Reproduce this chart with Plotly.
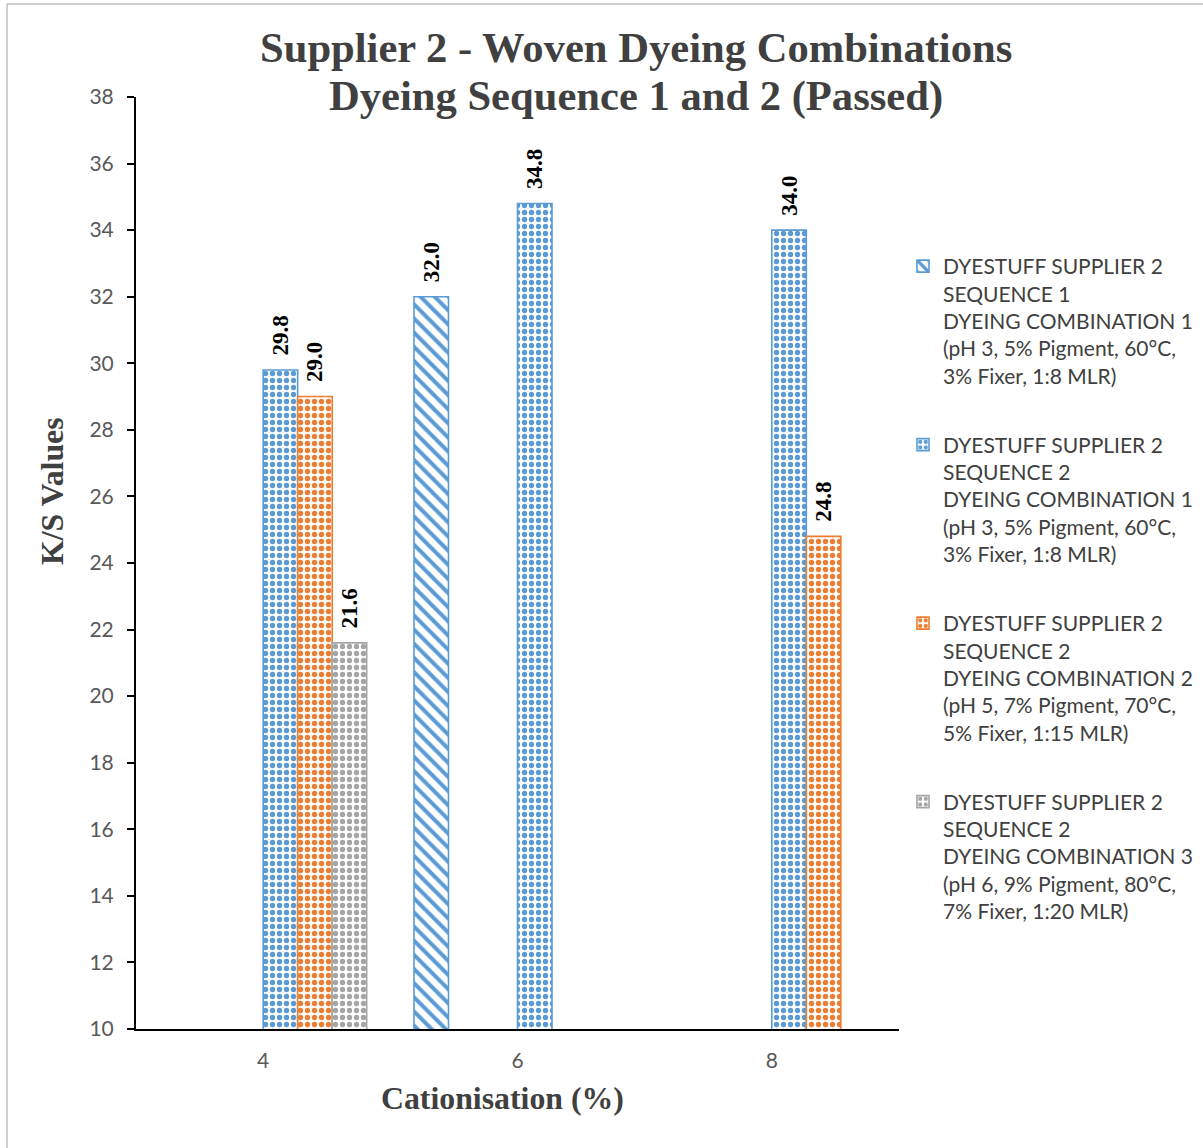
import plotly.graph_objects as go

# Data
categories = ["4", "6", "8"]
seq1_comb1 = [0, 32.0, 0]
seq1_comb2 = [0, 0, 0]
seq1_comb3 = [0, 0, 0]
seq2_comb1 = [29.8, 34.8, 34.0]
seq2_comb2 = [29.0, 0, 24.8]
seq2_comb3 = [21.6, 0, 0]

legend_seq1_comb1 = ("DYESTUFF SUPPLIER 2<br>SEQUENCE 1<br>DYEING COMBINATION 1<br>"
                     "(pH 3, 5% Pigment, 60°C,<br>3% Fixer, 1:8 MLR)")
legend_seq2_comb1 = ("DYESTUFF SUPPLIER 2<br>SEQUENCE 2<br>DYEING COMBINATION 1<br>"
                     "(pH 3, 5% Pigment, 60°C,<br>3% Fixer, 1:8 MLR)")
legend_seq2_comb2 = ("DYESTUFF SUPPLIER 2<br>SEQUENCE 2<br>DYEING COMBINATION 2<br>"
                     "(pH 5, 7% Pigment, 70°C,<br>5% Fixer, 1:15 MLR)")
legend_seq2_comb3 = ("DYESTUFF SUPPLIER 2<br>SEQUENCE 2<br>DYEING COMBINATION 3<br>"
                     "(pH 6, 9% Pigment, 80°C,<br>7% Fixer, 1:20 MLR)")

BLUE = "#5B9BD5"
ORANGE = "#ED7D31"
GREY = "#A5A5A5"

SERIF = "Liberation Serif, Times New Roman, serif"
SANS = "Lato, Carlito, Calibri, sans-serif"

W, H = 1203, 1148
ML, MR, MT, MB = 136, 304, 97, 119


def labels(vals):
    # non-breaking spaces keep the value label clear of the bar top
    return [f"\u00a0\u00a0{v:.1f}" if v > 0 else "" for v in vals]


def bar(name, vals, color, shape, size, solidity, show, group):
    return go.Bar(
        name=name,
        x=categories,
        y=vals,
        text=labels(vals),
        textposition="outside",
        textangle=-90,
        constraintext="none",
        cliponaxis=False,
        textfont=dict(family=SERIF, size=23, color="black", weight="bold"),
        marker=dict(
            color="white",
            line=dict(color=color, width=1.6),
            pattern=dict(shape=shape, fgcolor=color, bgcolor="white",
                         size=size, solidity=solidity, fillmode="replace"),
        ),
        showlegend=show,
        legendgroup=group,
    )


fig = go.Figure()
fig.add_trace(bar(legend_seq1_comb1, seq1_comb1, BLUE, "\\", 10, 0.4, True, "a"))
fig.add_trace(bar("SEQUENCE 1 COMBINATION 2", seq1_comb2, ORANGE, ".", 7, 0.45, False, "b"))
fig.add_trace(bar("SEQUENCE 1 COMBINATION 3", seq1_comb3, GREY, ".", 7, 0.45, False, "c"))
fig.add_trace(bar(legend_seq2_comb1, seq2_comb1, BLUE, ".", 7, 0.45, True, "d"))
fig.add_trace(bar(legend_seq2_comb2, seq2_comb2, ORANGE, ".", 7, 0.45, True, "e"))
fig.add_trace(bar(legend_seq2_comb3, seq2_comb3, GREY, ".", 7, 0.45, True, "f"))


def px_x(x):
    return (x - ML) / (W - ML - MR)


def px_y(y):
    return 1 - (y - MT) / (H - MT - MB)


def title_note(text, x, y, size, angle=0):
    return dict(text=f"<b>{text}</b>", x=px_x(x), y=px_y(y),
                xref="paper", yref="paper", xanchor="center", yanchor="middle",
                showarrow=False, textangle=angle,
                font=dict(family=SERIF, size=size, color="#404040"))


fig.update_layout(
    width=W,
    height=H,
    margin=dict(l=ML, r=MR, t=MT, b=MB, pad=0, autoexpand=False),
    paper_bgcolor="white",
    plot_bgcolor="white",
    barmode="group",
    bargap=0.186,
    bargroupgap=0,
    showlegend=True,
    legend=dict(
        xref="container", yref="container",
        x=903 / W, y=1 - 246 / H, xanchor="left", yanchor="top",
        font=dict(family=SANS, size=21, color="#404040"),
        valign="top",
        tracegroupgap=39,
        traceorder="grouped",
        maxheight=1100,
        bgcolor="rgba(0,0,0,0)",
    ),
    xaxis=dict(
        type="category",
        showline=True, linecolor="black", linewidth=2,
        ticks="", showgrid=False, zeroline=False,
        tickfont=dict(family=SANS, size=21, color="#595959"),
        ticklabelstandoff=12,
    ),
    yaxis=dict(
        range=[10, 38], dtick=2, tick0=10,
        showline=True, linecolor="black", linewidth=2,
        ticks="outside", ticklen=7, tickwidth=2, tickcolor="black",
        showgrid=False, zeroline=False,
        tickfont=dict(family=SANS, size=21, color="#595959"),
        ticklabelstandoff=9,
    ),
    annotations=[
        title_note("Supplier 2 - Woven Dyeing Combinations", 636, 48, 42.6),
        title_note("Dyeing Sequence 1 and 2 (Passed)", 636, 96, 42.6),
        title_note("Cationisation (%)", 502, 1098, 31.8),
        title_note("K/S Values", 52, 491, 31.8, angle=-90),
    ],
    shapes=[
        dict(type="line", xref="paper", yref="paper",
             x0=px_x(7), x1=px_x(7), y0=px_y(4), y1=px_y(1160),
             line=dict(color="#BFBFBF", width=1.5)),
        dict(type="line", xref="paper", yref="paper",
             x0=px_x(7), x1=px_x(1210), y0=px_y(4), y1=px_y(4),
             line=dict(color="#BFBFBF", width=1.5)),
    ],
)

fig.write_html("out.html")
